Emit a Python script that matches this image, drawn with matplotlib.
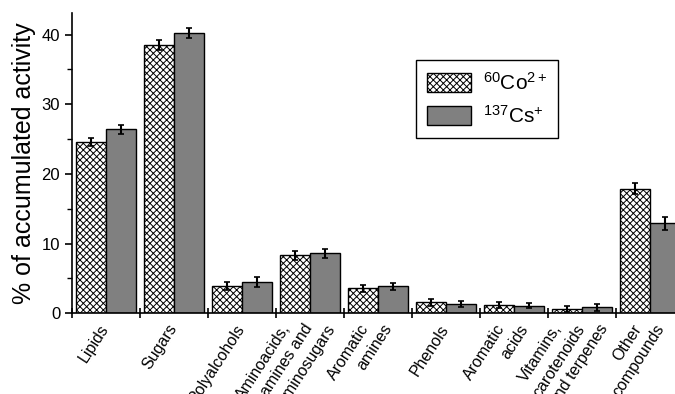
import matplotlib
matplotlib.use('Agg')
import matplotlib.pyplot as plt
import numpy as np
from matplotlib.patches import Patch

plt.rcParams['font.family'] = ['Liberation Sans', 'DejaVu Sans']
plt.rcParams['mathtext.fontset'] = 'custom'
plt.rcParams['mathtext.rm'] = 'Liberation Sans'
plt.rcParams['mathtext.it'] = 'Liberation Sans'
plt.rcParams['mathtext.bf'] = 'Liberation Sans'
plt.rcParams['hatch.linewidth'] = 0.7

# data
categories = ['Lipids', 'Sugars', 'Polyalcohols', 'Aminoacids,\namines and\naminosugars',
              'Aromatic\namines', 'Phenols', 'Aromatic\nacids',
              'Vitamins,\ncarotenoids\nand terpenes', 'Other\ncompounds']
co_values = [24.6, 38.5, 3.9, 8.3, 3.6, 1.6, 1.2, 0.6, 17.9]
co_errors = [0.6, 0.7, 0.6, 0.6, 0.5, 0.5, 0.4, 0.4, 0.8]
cs_values = [26.4, 40.2, 4.5, 8.6, 3.9, 1.3, 1.1, 0.85, 12.9]
cs_errors = [0.6, 0.7, 0.7, 0.6, 0.5, 0.4, 0.4, 0.5, 0.9]
series_labels = ['$^{60}$Co$^{2+}$', '$^{137}$Cs$^{+}$']

fig = plt.figure(figsize=(6.75, 3.94), dpi=100)
ax = fig.add_axes([72 / 675, 1 - 313.3 / 394, 612 / 675, 300.3 / 394])

x = np.arange(len(categories))
w = 0.44
err_kw = dict(ecolor='black', elinewidth=1.5, capsize=2.5, capthick=1.2)

ax.bar(x - w / 2, co_values, w, yerr=co_errors, color='white', edgecolor='black',
       hatch='xxxxx', linewidth=1.0, error_kw=err_kw)
ax.bar(x + w / 2, cs_values, w, yerr=cs_errors, color='#808080', edgecolor='black',
       linewidth=1.0, error_kw=err_kw)

ax.set_xlim(-0.5, len(categories) - 0.5)
ax.set_ylim(0, 43.1)

ax.spines['top'].set_visible(False)
ax.spines['right'].set_visible(False)
ax.spines['left'].set_linewidth(1.2)
ax.spines['bottom'].set_linewidth(1.2)

ax.set_yticks([0, 10, 20, 30, 40])
ax.set_yticks([5, 15, 25, 35], minor=True)
ax.tick_params(axis='y', which='major', direction='out', length=5, width=1.2, labelsize=12)
ax.tick_params(axis='y', which='minor', direction='out', length=3.5, width=1.0)

# group separators on the x axis, category names written line by line
ax.set_xticks([])
ax.set_xticks(np.arange(-0.5, len(categories)), minor=True)
ax.tick_params(axis='x', which='minor', direction='inout', length=7, width=1.2)

step = 16.5  # points between the ends of successive lines
for i, name in enumerate(categories):
    lines = name.split('\n')
    n = len(lines)
    for j, line in enumerate(lines):
        ax.annotate(line, xy=(i, 0), xycoords=('data', 'axes fraction'),
                    xytext=((j - (n - 1) / 2) * step - 5, -6), textcoords='offset points',
                    rotation=57, ha='right', va='top', rotation_mode='anchor',
                    fontsize=11.5, annotation_clip=False)

ax.set_ylabel('% of accumulated activity', fontsize=18, labelpad=4)

handles = [Patch(facecolor='white', edgecolor='black', hatch='xxxxx', linewidth=1.0),
           Patch(facecolor='#808080', edgecolor='black', linewidth=1.0)]
leg = ax.legend(handles, series_labels, loc='upper left',
                bbox_to_anchor=(416 / 675, 1 - 60 / 394), bbox_transform=fig.transFigure,
                borderaxespad=0, fontsize=15, fancybox=False, edgecolor='black',
                framealpha=1, handlelength=2.1, handleheight=1.05, labelspacing=0.55,
                borderpad=0.55, handletextpad=0.55)
leg.get_frame().set_linewidth(1.0)

fig.savefig('out.png', dpi=100)
